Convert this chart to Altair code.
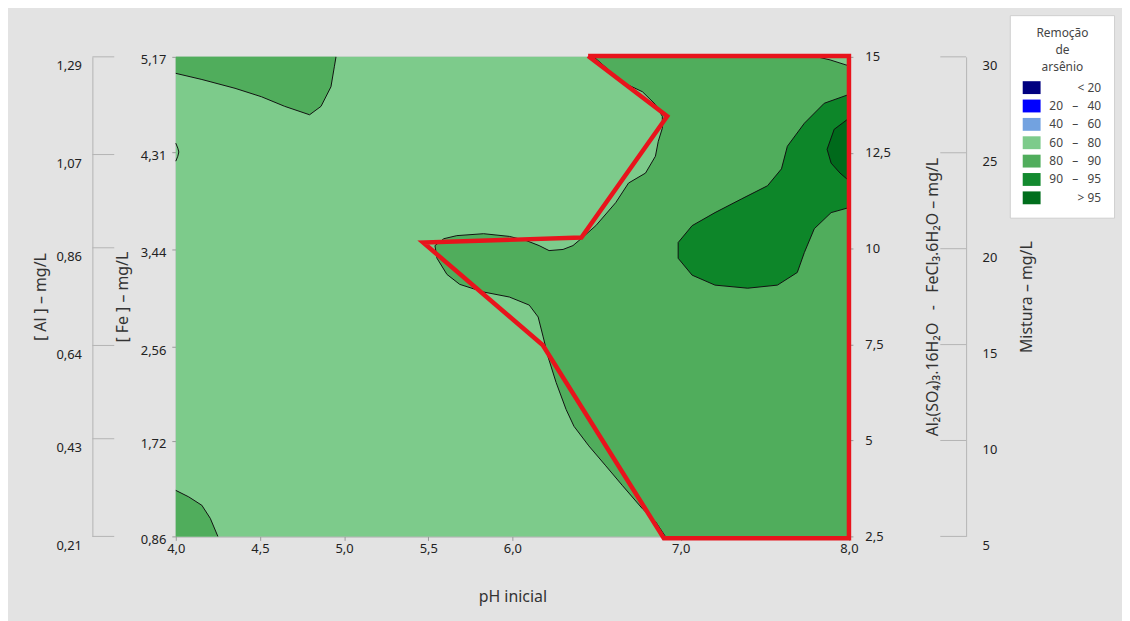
import altair as alt
import pandas as pd

# ---------------- axis values ----------------
ph_ticks = [4.0, 4.5, 5.0, 5.5, 6.0, 7.0, 8.0]
dose_ticks = [2.5, 5.0, 7.5, 10.0, 12.5, 15.0]
fe_ticks = [0.86, 1.72, 2.56, 3.44, 4.31, 5.17]
al_ticks = [0.21, 0.43, 0.64, 0.86, 1.07, 1.29]
mix_ticks = [5, 10, 15, 20, 25, 30]

legend_labels = ["< 20", "20 – 40", "40 – 60", "60 – 80", "80 – 90", "90 – 95", "> 95"]
legend_colors = ["#000080", "#0000ff", "#72a2e0", "#7dcb8b", "#50ad5c", "#138a2f", "#006e1c"]

# ---------------- contour curves (pH, dose of Al2(SO4)3 / FeCl3) ----------------
# 80-90 region, top-left corner
tl_ph = [4.00, 4.155, 4.352, 4.509, 4.647, 4.795, 4.863, 4.922, 4.942, 4.952]
tl_dose = [14.57, 14.41, 14.18, 13.96, 13.71, 13.49, 13.71, 14.22, 14.74, 15.0]
# 80-90 region, bottom-left corner
bl_ph = [4.0, 4.077, 4.155, 4.205, 4.25]
bl_dose = [3.70, 3.53, 3.31, 2.97, 2.5]
# 80-90 region, large right part
big_ph = [6.484, 6.572, 6.649, 6.773, 6.850, 6.891, 6.891, 6.867, 6.850, 6.791, 6.690,
          6.614, 6.496, 6.395, 6.360, 6.301, 6.218, 6.159, 6.083, 5.982, 5.829, 5.670,
          5.593, 5.540, 5.552, 5.611, 5.687, 5.829, 5.982, 6.100, 6.153, 6.183, 6.212,
          6.260, 6.319, 6.366, 6.454, 6.555, 6.655, 6.773, 6.850, 6.909]
big_dose = [15.0, 14.66, 14.35, 14.09, 13.76, 13.45, 13.14, 12.80, 12.41, 11.97, 11.71,
            11.20, 10.60, 10.21, 10.08, 9.98, 9.95, 10.08, 10.21, 10.32, 10.39, 10.34,
            10.26, 10.08, 9.75, 9.33, 9.07, 8.87, 8.74, 8.53, 8.22, 7.70, 7.18,
            6.51, 5.81, 5.37, 4.86, 4.34, 3.82, 3.22, 2.89, 2.5]
# 60-80 sliver, top-right corner
tr_ph = [7.811, 7.888, 7.982, 8.0]
tr_dose = [15.0, 14.92, 14.79, 14.77]
# 90-95 region
mid_ph = [8.0, 7.853, 7.735, 7.634, 7.599, 7.516, 7.363, 7.204, 7.068, 6.985, 6.985,
          7.068, 7.204, 7.398, 7.575, 7.693, 7.735, 7.794, 7.894, 8.0]
mid_dose = [14.02, 13.79, 13.27, 12.67, 12.08, 11.64, 11.30, 10.94, 10.60, 10.16, 9.75,
            9.31, 9.05, 8.97, 9.05, 9.38, 9.90, 10.52, 10.94, 11.07]
# > 95 region
top_ph = [8.0, 7.912, 7.870, 7.894, 7.947, 8.0]
top_dose = [13.40, 13.11, 12.59, 12.23, 11.97, 11.77]
# small contour touching the left edge
edge_ph = [4.0, 4.012, 4.018, 4.012, 4.0]
edge_dose = [12.75, 12.62, 12.52, 12.41, 12.28]

# red outline of the chosen region
red_ph = [6.45, 6.92, 6.41, 5.47, 6.18, 6.90, 8.0, 8.0, 6.45]
red_dose = [15.02, 13.45, 10.29, 10.16, 7.49, 2.45, 2.45, 15.02, 15.02]

x_lo, x_hi = ph_ticks[0], ph_ticks[-1]
y_lo, y_hi = dose_ticks[0], dose_ticks[-1]


def path(ph, dose, g):
    return pd.DataFrame({"ph": ph, "dose": dose, "i": list(range(len(ph))), "g": g})


fill_8090 = pd.concat([
    path(tl_ph + [x_lo], tl_dose + [y_hi], "tl"),
    path(bl_ph + [x_lo], bl_dose + [y_lo], "bl"),
    path(big_ph + [x_hi, x_hi], big_dose + [y_lo, y_hi], "big"),
])
fill_6080 = path(tr_ph + [x_hi], tr_dose + [y_hi], "tr")
fill_9095 = path(mid_ph, mid_dose, "mid")
fill_95 = path(top_ph, top_dose, "top")
lines = pd.concat([
    path(tl_ph, tl_dose, "tl"), path(bl_ph, bl_dose, "bl"), path(big_ph, big_dose, "big"),
    path(tr_ph, tr_dose, "tr"), path(mid_ph, mid_dose, "mid"), path(top_ph, top_dose, "top"),
    path(edge_ph, edge_dose, "edge"),
])
red = path(red_ph, red_dose, "red")

FONT = "Noto Sans"
LABEL = "#222222"
GRAY = "#b4b4b4"
NB = "\u00a0"

xs = alt.Scale(domain=[x_lo, x_hi], nice=False, zero=False)
ys = alt.Scale(domain=[y_lo, y_hi], nice=False, zero=False)

x_axis = alt.Axis(values=ph_ticks, labelExpr="replace(format(datum.value, '.1f'), '.', ',')",
                  title="pH inicial", tickSize=4, labelPadding=2, titlePadding=34,
                  labelFlush=False, domain=False, tickColor="#999999", grid=False)
dose_axis = alt.Axis(orient="right", values=dose_ticks,
                     labelExpr="replace(toString(datum.value), '.', ',')",
                     title=f"Al₂(SO₄)₃.16H₂O{NB}{NB}{NB}-{NB}{NB}{NB}FeCl₃.6H₂O – mg/L",
                     titleAngle=270, titleBaseline="top", tickSize=4, labelPadding=12,
                     titlePadding=34, labelFlush=False, domain=False, tickColor="#999999",
                     grid=False)

base_df = pd.DataFrame({"x0": [x_lo], "x1": [x_hi], "y0": [y_lo], "y1": [y_hi],
                        "cat": [legend_labels[3]]})
label_expr = ("replace(datum.label, ' – ', '" + NB * 3 + "–" + NB * 3 + "')")

base = alt.Chart(base_df).mark_rect().encode(
    x=alt.X("x0:Q", scale=xs, axis=x_axis),
    x2="x1:Q",
    y=alt.Y("y0:Q", scale=ys, axis=dose_axis),
    y2="y1:Q",
    color=alt.Color("cat:N", scale=alt.Scale(domain=legend_labels, range=legend_colors),
                    legend=alt.Legend(
                        title=["Remoção", "de", "arsênio"], orient="none", legendX=840, legendY=-42,
                        fillColor="white", strokeColor="#cfcfcf", padding=13,
                        titleAnchor="middle", titleAlign="center", titleFontSize=12,
                        titleFontWeight="normal", titleColor="#444444", titleLineHeight=17,
                        titlePadding=5,
                        labelFontSize=12, labelColor="#444444", labelAlign="right",
                        labelOffset=61,
                        symbolType="M-1,-0.72H1V0.72H-1Z", symbolSize=324, symbolStrokeWidth=0,
                        symbolOpacity=1, rowPadding=2.5,
                        labelExpr=label_expr)),
)


def filled(df, color):
    return alt.Chart(df).mark_line(fill=color, strokeWidth=0).encode(
        x=alt.X("ph:Q", scale=xs),
        y=alt.Y("dose:Q", scale=ys, axis=None),
        order="i:Q", detail="g:N")


contours = alt.Chart(lines).mark_line(color="#111111", strokeWidth=1).encode(
    x=alt.X("ph:Q", scale=xs),
    y=alt.Y("dose:Q", scale=ys, axis=None),
    order="i:Q", detail="g:N")

outline = alt.Chart(red).mark_line(color="#e8141c", strokeWidth=4.5, strokeJoin="miter").encode(
    x=alt.X("ph:Q", scale=xs),
    y=alt.Y("dose:Q", scale=ys, axis=None),
    order="i:Q")

fe_layer = alt.Chart(pd.DataFrame({"fe": fe_ticks})).mark_point(opacity=0).encode(
    y=alt.Y("fe:Q", scale=alt.Scale(domain=[fe_ticks[0], fe_ticks[-1]], nice=False, zero=False),
            axis=alt.Axis(orient="left", values=fe_ticks, title="[ Fe ] – mg/L",
                          labelExpr="replace(format(datum.value, '.2f'), '.', ',')",
                          tickSize=4, labelPadding=6, titlePadding=10, labelOffset=3,
                          labelFlush=False, domain=False, tickColor="#999999", grid=False)))

al_layer = alt.Chart(pd.DataFrame({"al": al_ticks})).mark_rule(color=GRAY, strokeWidth=1).encode(
    y=alt.Y("al:Q", scale=alt.Scale(domain=[al_ticks[0], al_ticks[-1]], nice=False, zero=False),
            axis=alt.Axis(orient="left", offset=84, values=al_ticks, title="[ Al ] – mg/L",
                          labelExpr="replace(format(datum.value, '.2f'), '.', ',')",
                          ticks=False, tickSize=0, labelPadding=11, titlePadding=7,
                          labelOffset=9, labelFlush=False, domain=True, domainColor=GRAY,
                          grid=False)),
    x=alt.value(-84), x2=alt.value(-62))

mix_layer = alt.Chart(pd.DataFrame({"mix": mix_ticks})).mark_rule(color=GRAY, strokeWidth=1).encode(
    y=alt.Y("mix:Q", scale=alt.Scale(domain=[mix_ticks[0], mix_ticks[-1]], nice=False, zero=False),
            axis=alt.Axis(orient="right", offset=118, values=mix_ticks, title="Mistura – mg/L",
                          titleAngle=270, titleBaseline="top",
                          ticks=False, tickSize=0, labelPadding=16, titlePadding=22,
                          labelOffset=9, labelFlush=False, domain=True, domainColor=GRAY,
                          grid=False)),
    x=alt.value(770), x2=alt.value(796))

chart = alt.layer(
    base,
    filled(fill_8090, legend_colors[4]),
    filled(fill_6080, legend_colors[3]),
    filled(fill_9095, "#0d8629"),
    filled(fill_95, "#006a1b"),
    contours,
    outline,
    fe_layer,
    al_layer,
    mix_layer,
).resolve_scale(y="independent").properties(
    width=678, height=483,
    autosize=alt.AutoSizeParams(type="none"),
    padding={"left": 169, "top": 47, "right": 275, "bottom": 83},
    background="#e3e3e3",
).configure(font=FONT).configure_view(
    stroke="#9a9a9a", strokeWidth=1
).configure_axis(
    labelFontSize=13, labelColor=LABEL, titleFontSize=16, titleFontWeight="normal",
    titleColor="#333333", labelFont=FONT, titleFont=FONT
)

chart.save("out.html", embed_options={"renderer": "svg", "actions": False})
